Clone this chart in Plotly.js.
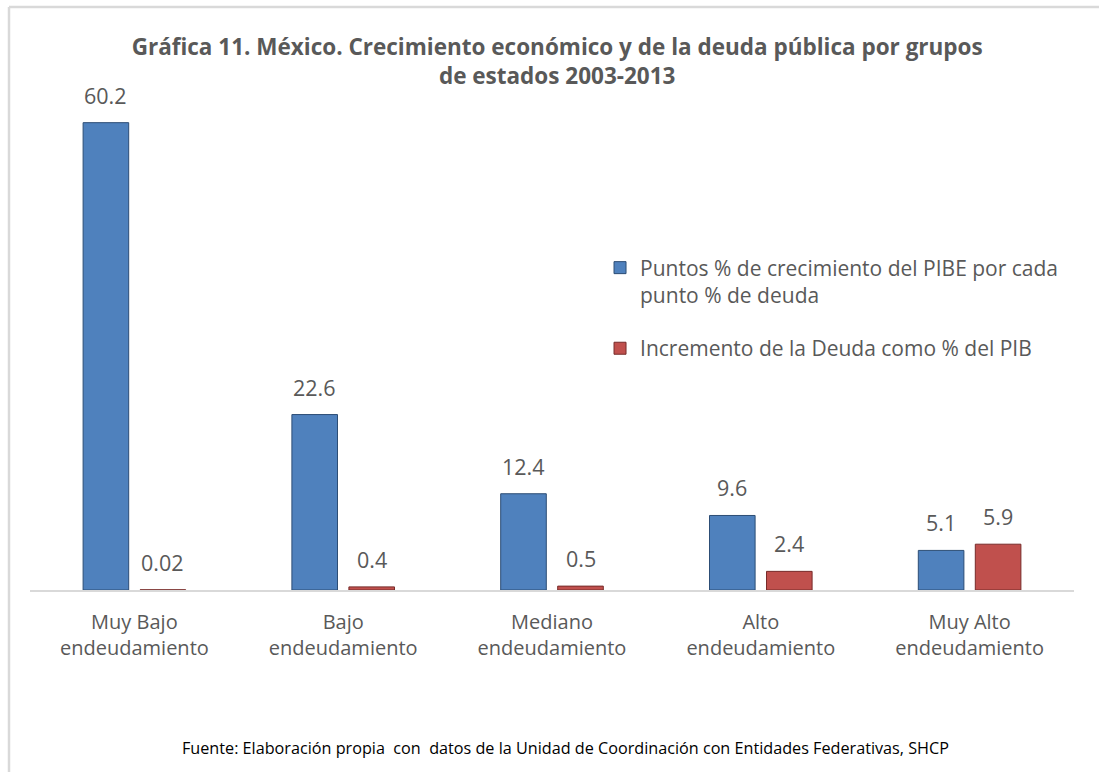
<!DOCTYPE html>
<html>
<head>
<meta charset="utf-8">
<script src="https://cdn.plot.ly/plotly-3.0.1.min.js"></script>
<style>html,body{margin:0;padding:0;background:#fff;}#chart{width:1099px;height:772px;}</style>
</head>
<body>
<div id="chart"></div>
<script>
const categories = ["Muy Bajo<br>endeudamiento", "Bajo<br>endeudamiento", "Mediano<br>endeudamiento", "Alto<br>endeudamiento", "Muy Alto<br>endeudamiento"];
const crecimiento = [60.2, 22.6, 12.4, 9.6, 5.1];
const deuda = [0.02, 0.4, 0.5, 2.4, 5.9];
const crecimientoLabels = ["60.2", "22.6", "12.4", "9.6", "5.1"];
const deudaLabels = ["0.02", "0.4", "0.5", "2.4", "5.9"];
const seriesNames = ["Puntos % de crecimiento del PIBE por cada<br>punto % de deuda", "Incremento de la Deuda como % del PIB"];
const footer = "Fuente: Elaboración propia  con  datos de la Unidad de Coordinación con Entidades Federativas, SHCP";
const titleText = "Gráfica 11. México. Crecimiento económico y de la deuda pública por grupos<br>de estados 2003-2013";

const FONT = "Open Sans, Noto Sans, Liberation Sans, sans-serif";
const GREY = "#595959";

const traces = [
  {type: "bar", x: categories, y: crecimiento, name: seriesNames[0], legendgroup: "a",
   marker: {color: "#4F81BD", line: {color: "#2C4D75", width: 1}}, hoverinfo: "y"},
  {type: "bar", x: categories, y: deuda, name: seriesNames[1], legendgroup: "b",
   marker: {color: "#C0504D", line: {color: "#772C2A", width: 1}}, hoverinfo: "y"}
];

const annotations = [];
const OFF = 28.5;
categories.forEach((c, i) => {
  annotations.push({x: c, y: crecimiento[i], text: crecimientoLabels[i], showarrow: false, xshift: -OFF, yshift: 11, yanchor: "bottom", font: {family: FONT, size: 21.5, color: GREY}});
  annotations.push({x: c, y: deuda[i], text: deudaLabels[i], showarrow: false, xshift: OFF, yshift: 11, yanchor: "bottom", font: {family: FONT, size: 21.5, color: GREY}});
});
annotations.push({xref: "paper", yref: "paper", x: 0.5125, y: -0.3224, text: footer, showarrow: false, xanchor: "center", yanchor: "middle", font: {family: FONT, size: 16.2, color: "#000"}});

const L = 30, R = 25, T = 100, B = 182;
const PW = 1099 - L - R, PH = 772 - T - B;
const layout = {
  width: 1099, height: 772,
  margin: {l: L, r: R, t: T, b: B},
  paper_bgcolor: "#fff", plot_bgcolor: "#fff",
  font: {family: FONT, color: GREY},
  title: {text: titleText, x: 0.507, xanchor: "center", y: 1 - 55/772, yanchor: "top",
          font: {family: FONT, size: 22.5, color: GREY, weight: "bold"}},
  barmode: "group", bargap: 0.454, bargroupgap: 0.2,
  xaxis: {showgrid: false, showline: true, linecolor: "#D9D9D9", linewidth: 2, ticks: "",
          tickfont: {family: FONT, size: 20, color: GREY}, ticklabelstandoff: 13, fixedrange: true},
  yaxis: {range: [0, 63.12], visible: false, showgrid: false, zeroline: false, fixedrange: true},
  legend: {x: 0.546, y: 0.699, xanchor: "left", yanchor: "top", traceorder: "grouped", tracegroupgap: 23,
           valign: "top", font: {family: FONT, size: 21, color: GREY}, bgcolor: "rgba(0,0,0,0)"},
  showlegend: true,
  annotations: annotations,
  shapes: [
    {type: "line", xref: "paper", yref: "paper", x0: (9-L)/PW, x1: (9-L)/PW, y0: (590-772)/PH, y1: (590-7)/PH, line: {color: "#D9D9D9", width: 2.5}},
    {type: "line", xref: "paper", yref: "paper", x0: (9-L)/PW, x1: (1099-L)/PW, y0: (590-7)/PH, y1: (590-7)/PH, line: {color: "#D9D9D9", width: 2.5}}
  ]
};

Plotly.newPlot("chart", traces, layout, {displayModeBar: false, staticPlot: true});
</script>
</body>
</html>
